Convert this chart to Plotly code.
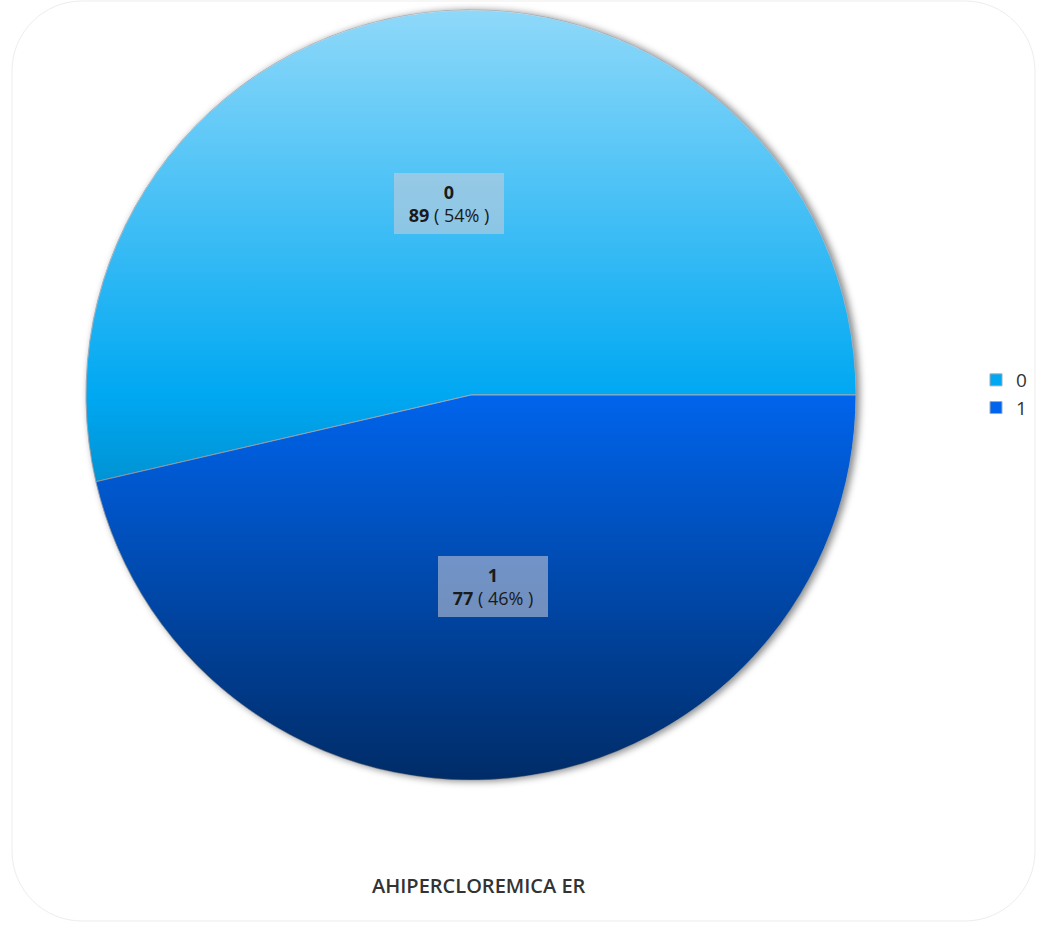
import base64, math
import plotly.graph_objects as go

# ---- data ----
labels = ["0", "1"]
values = [89, 77]
colors = ["#00a8f2", "#0064ec"]
chart_title = "AHIPERCLOREMICA ER"

W, H = 1037, 930
# pie placement (pixels)
CX, CY, R = 471, 395, 385
dom_x = [(CX - R) / W, (CX + R) / W]
dom_y = [(H - CY - R) / H, (H - CY + R) / H]

total = sum(values)
# first slice starts at 3 o'clock and runs counterclockwise
rotation = 90 + 360 * (total - values[0]) / total

fig = go.Figure()
fig.add_trace(go.Pie(
    labels=labels, values=values, sort=False, direction="counterclockwise",
    rotation=rotation, textinfo="none", hoverinfo="label+value+percent",
    marker=dict(colors=colors, line=dict(color="#9eaab8", width=1)),
    domain=dict(x=dom_x, y=dom_y), showlegend=True,
))

# labels in boxes, positioned from the data (mid-angle of each slice, half radius)
cum = 0.0
annotations = []
for lab, v in zip(labels, values):
    frac = v / total
    mid = (cum + frac / 2) * 2 * math.pi  # start at 3 o'clock, counterclockwise
    cum += frac
    px = CX + 0.5 * R * math.cos(mid)
    py = CY - 0.5 * R * math.sin(mid)
    pct = round(frac * 100)
    annotations.append(dict(
        x=px / W, y=1 - py / H, xref="paper", yref="paper",
        xanchor="center", yanchor="middle",
        text=f"<b>{lab}</b><br><b>{v}</b> ( {pct}% )",
        showarrow=False, align="center", width=96,
        font=dict(family="Open Sans, sans-serif", size=18, color="#1a1a1a"),
        bgcolor="rgba(205,205,215,0.55)", borderpad=7, borderwidth=0,
    ))

annotations.append(dict(
    x=479 / W, y=1 - 885 / H, xref="paper", yref="paper",
    xanchor="center", yanchor="middle",
    text=chart_title, showarrow=False,
    font=dict(family="Open Sans, sans-serif", size=20, color="#333333", weight=600),
))

# gradient overlay (light at top, dark at bottom) clipped to the pie circle
grad_svg = (
    '<svg xmlns="http://www.w3.org/2000/svg" viewBox="0 0 100 100" width="400" height="400">'
    '<defs><linearGradient id="g" x1="0" y1="0" x2="0" y2="1">'
    '<stop offset="0" stop-color="#ffffff" stop-opacity="0.56"/>'
    '<stop offset="0.5" stop-color="#ffffff" stop-opacity="0"/>'
    '<stop offset="0.5" stop-color="#000000" stop-opacity="0"/>'
    '<stop offset="1" stop-color="#000000" stop-opacity="0.56"/>'
    '</linearGradient></defs>'
    '<circle cx="50" cy="50" r="50" fill="url(#g)"/></svg>'
)
shadow_svg = (
    '<svg xmlns="http://www.w3.org/2000/svg" viewBox="0 0 120 120" width="480" height="480">'
    '<defs><filter id="b" x="-20%" y="-20%" width="140%" height="140%">'
    '<feGaussianBlur stdDeviation="0.5"/></filter></defs>'
    '<circle cx="60.4" cy="60.1" r="50.1" fill="#000000" fill-opacity="0.45" filter="url(#b)"/></svg>'
)
def uri(s):
    return "data:image/svg+xml;base64," + base64.b64encode(s.encode()).decode()

sw = 2 * R * 1.2
images = [
    dict(source=uri(shadow_svg), xref="paper", yref="paper",
         x=(CX - sw / 2) / W, y=1 - (CY - sw / 2) / H, sizex=sw / W, sizey=sw / H,
         xanchor="left", yanchor="top", sizing="stretch", layer="below"),
    dict(source=uri(grad_svg), xref="paper", yref="paper",
         x=dom_x[0], y=dom_y[1], sizex=dom_x[1] - dom_x[0], sizey=dom_y[1] - dom_y[0],
         xanchor="left", yanchor="top", sizing="stretch", layer="above"),
]

# rounded card border
x0, x1, y0, y1, rr = 12, 1035, 1, 921, 70
def P(x, y):
    return f"{x / W:.5f},{1 - y / H:.5f}"
k = 0.5523 * rr
card = (
    f"M {P(x0 + rr, y0)} L {P(x1 - rr, y0)} "
    f"C {P(x1 - rr + k, y0)} {P(x1, y0 + rr - k)} {P(x1, y0 + rr)} "
    f"L {P(x1, y1 - rr)} "
    f"C {P(x1, y1 - rr + k)} {P(x1 - rr + k, y1)} {P(x1 - rr, y1)} "
    f"L {P(x0 + rr, y1)} "
    f"C {P(x0 + rr - k, y1)} {P(x0, y1 - rr + k)} {P(x0, y1 - rr)} "
    f"L {P(x0, y0 + rr)} "
    f"C {P(x0, y0 + rr - k)} {P(x0 + rr - k, y0)} {P(x0 + rr, y0)} Z"
)

fig.update_layout(
    width=W, height=H,
    margin=dict(l=0, r=0, t=0, b=0),
    paper_bgcolor="white", plot_bgcolor="white",
    font=dict(family="Open Sans, sans-serif", color="#333333"),
    annotations=annotations,
    images=images,
    shapes=[dict(type="path", path=card, xref="paper", yref="paper",
                 line=dict(color="#ededed", width=1), fillcolor="rgba(0,0,0,0)", layer="below")],
    legend=dict(x=976 / W, y=1 - 394 / H, xanchor="left", yanchor="middle",
                font=dict(size=19, color="#333333"), bgcolor="rgba(0,0,0,0)"),
)

fig.write_html("out.html")
